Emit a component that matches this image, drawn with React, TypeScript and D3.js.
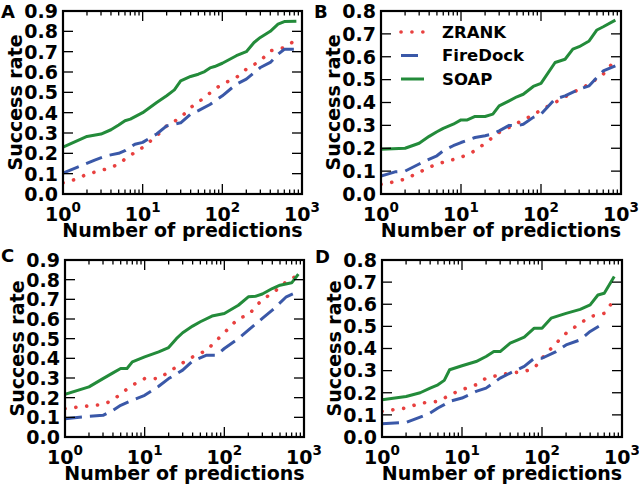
import React from "react";
import * as d3 from "d3";

type Pt = [number, number];

const SERIES_NAMES = ["ZRANK", "FireDock", "SOAP"];
const PANEL_LABELS = ["A", "B", "C", "D"];
const X_TICKS = [1, 10, 100, 1000];
const X_TICK_EXP = ["0", "1", "2", "3"];
const Y_TICKS_09 = [0, 0.1, 0.2, 0.3, 0.4, 0.5, 0.6, 0.7, 0.8, 0.9];
const Y_TICKS_08 = [0, 0.1, 0.2, 0.3, 0.4, 0.5, 0.6, 0.7, 0.8];
const X_LABEL = "Number of predictions";
const Y_LABEL = "Success rate";

const A_ZRANK: Pt[] = [[1,.055],[1.5,.074],[2,.098],[3,.115],[4,.131],[5,.147],[6,.172],[8,.205],[10,.229],[15,.286],[20,.335],[30,.376],[40,.425],[60,.475],[80,.516],[100,.54],[150,.573],[200,.614],[300,.655],[400,.704],[600,.72],[800,.753]];
const A_FIREDOCK: Pt[] = [[1,.103],[1.5,.131],[2.5,.167],[3.5,.188],[5,.2],[6,.213],[8,.245],[10,.254],[15,.295],[20,.335],[30,.35],[40,.393],[50,.41],[70,.44],[100,.483],[150,.54],[200,.565],[300,.622],[400,.647],[500,.687],[600,.712],[850,.712]];
const A_SOAP: Pt[] = [[1,.23],[2,.283],[3,.295],[4,.316],[5,.339],[6,.36],[7,.368],[10,.4],[15,.45],[20,.483],[25,.512],[30,.556],[40,.578],[50,.589],[60,.602],[70,.62],[80,.627],[100,.643],[150,.68],[200,.7],[250,.745],[300,.77],[400,.8],[500,.835],[600,.848],[850,.85]];

const B_ZRANK: Pt[] = [[1,.042],[1.5,.054],[2,.065],[3,.095],[4,.116],[5,.131],[7,.145],[10,.16],[15,.189],[20,.222],[30,.269],[40,.291],[60,.324],[80,.345],[100,.368],[150,.4],[200,.425],[300,.458],[400,.48],[600,.524],[800,.575]];
const B_FIREDOCK: Pt[] = [[1,.078],[1.5,.097],[2,.1],[3,.131],[3.5,.143],[5,.167],[6,.189],[8,.211],[10,.225],[15,.247],[20,.255],[25,.262],[30,.276],[40,.3],[50,.298],[60,.305],[80,.335],[100,.349],[150,.415],[200,.429],[300,.458],[400,.473],[500,.509],[600,.538],[850,.56]];
const B_SOAP: Pt[] = [[1,.196],[2,.2],[3,.222],[4,.252],[5,.272],[6,.287],[8,.305],[10,.324],[12,.324],[15,.339],[20,.339],[25,.349],[30,.385],[40,.407],[50,.425],[60,.436],[80,.47],[100,.484],[150,.575],[200,.589],[250,.633],[300,.644],[400,.669],[500,.717],[600,.731],[850,.76]];

const C_ZRANK: Pt[] = [[1,.144],[1.5,.153],[2,.158],[3,.166],[4,.187],[5,.22],[7,.263],[10,.297],[15,.297],[20,.331],[30,.377],[40,.407],[60,.441],[80,.492],[100,.53],[150,.603],[200,.62],[300,.7],[400,.73],[600,.79],[800,.818]];
const C_FIREDOCK: Pt[] = [[1,.093],[2,.105],[3,.11],[4,.136],[5,.161],[7,.187],[10,.212],[15,.258],[20,.297],[30,.34],[40,.387],[60,.416],[80,.416],[100,.45],[150,.5],[200,.543],[300,.603],[400,.645],[600,.713],[850,.74]];
const C_SOAP: Pt[] = [[1,.217],[2,.255],[3,.297],[4,.326],[5,.348],[6,.348],[7,.382],[10,.407],[15,.433],[20,.455],[25,.5],[30,.53],[40,.564],[50,.586],[70,.615],[100,.628],[150,.67],[200,.713],[250,.716],[300,.727],[400,.755],[500,.772],[700,.784],[850,.828]];

const D_ZRANK: Pt[] = [[1,.116],[2,.131],[3,.153],[5,.161],[6,.176],[8,.199],[10,.214],[15,.236],[20,.266],[30,.281],[40,.289],[60,.296],[80,.311],[100,.356],[150,.424],[200,.469],[300,.514],[400,.544],[600,.559],[800,.62]];
const D_FIREDOCK: Pt[] = [[1,.06],[2,.066],[3,.09],[4,.108],[5,.131],[6,.146],[7,.161],[10,.176],[15,.206],[20,.221],[30,.266],[40,.289],[60,.319],[80,.356],[100,.356],[150,.386],[200,.416],[300,.439],[400,.477],[550,.507]];
const D_SOAP: Pt[] = [[1,.168],[2,.183],[3,.2],[4,.221],[5,.236],[6,.256],[7,.304],[10,.322],[15,.341],[20,.364],[25,.386],[30,.386],[40,.424],[50,.439],[60,.451],[80,.492],[100,.492],[130,.537],[200,.559],[300,.577],[400,.597],[500,.642],[600,.65],[800,.725]];

const COLORS = ["#e8403f", "#3a58a8", "#238b3a"];
const FONT = "'DejaVu Sans', sans-serif";

const STYLES = [
  { dash: "0.1,10.8", width: 3.6, cap: "round" as const },
  { dash: "17,8", width: 3, cap: "butt" as const },
  { dash: undefined, width: 3, cap: "butt" as const },
];

type PanelProps = {
  idx: number;
  left: number; top: number; right: number; bottom: number;
  yMax: number; yTicks: number[];
  series: Pt[][];
  legend?: boolean;
  letterX: number; letterY: number;
  yLabelX: number;
};

function Panel(p: PanelProps) {
  const x = d3.scaleLog().domain([1, 1000]).range([p.left, p.right]);
  const y = d3.scaleLinear().domain([0, p.yMax]).range([p.bottom, p.top]);
  const line = d3.line<Pt>().x(d => x(d[0])).y(d => y(d[1]));
  const minor: number[] = [];
  for (let k = 0; k < 3; k++) for (let m = 2; m <= 9; m++) minor.push(m * Math.pow(10, k));
  const clipId = "clip" + p.idx;
  const fs = 19;
  const major = 10, minorLen = 4.5;
  return (
    <g>
      <defs>
        <clipPath id={clipId}>
          <rect x={p.left} y={p.top} width={p.right - p.left} height={p.bottom - p.top} />
        </clipPath>
      </defs>
      <g clipPath={`url(#${clipId})`}>
        {p.series.map((s, i) => (
          <path key={i} d={line(s) || ""} fill="none" stroke={COLORS[i]}
            strokeWidth={STYLES[i].width} strokeDasharray={STYLES[i].dash}
            strokeLinecap={STYLES[i].cap} strokeLinejoin="round" />
        ))}
      </g>
      {/* ticks */}
      <g stroke="#000" strokeWidth={1.3}>
        {X_TICKS.map(t => (
          <g key={"xm" + t}>
            <line x1={x(t)} x2={x(t)} y1={p.bottom} y2={p.bottom - major} />
            <line x1={x(t)} x2={x(t)} y1={p.top} y2={p.top + major} />
          </g>
        ))}
        {minor.map(t => (
          <g key={"xn" + t}>
            <line x1={x(t)} x2={x(t)} y1={p.bottom} y2={p.bottom - minorLen} />
            <line x1={x(t)} x2={x(t)} y1={p.top} y2={p.top + minorLen} />
          </g>
        ))}
        {p.yTicks.map(t => (
          <g key={"y" + t}>
            <line x1={p.left} x2={p.left + major} y1={y(t)} y2={y(t)} />
            <line x1={p.right} x2={p.right - major} y1={y(t)} y2={y(t)} />
          </g>
        ))}
      </g>
      <rect x={p.left} y={p.top} width={p.right - p.left} height={p.bottom - p.top}
        fill="none" stroke="#000" strokeWidth={2.2} />
      {/* tick labels */}
      <g fontFamily={FONT} fontWeight="bold" fontSize={fs} fill="#000">
        {p.yTicks.map(t => (
          <text key={"yl" + t} x={p.left - 5} y={y(t)} dy="0.36em" textAnchor="end">{t.toFixed(1)}</text>
        ))}
        {X_TICKS.map((t, i) => (
          <text key={"xl" + t} x={x(t)} y={p.bottom + 27} textAnchor="middle">
            10<tspan dy={-9} fontSize={13.5}>{X_TICK_EXP[i]}</tspan>
          </text>
        ))}
        <text x={(p.left + p.right) / 2} y={p.bottom + 43} textAnchor="middle">{X_LABEL}</text>
        <text transform={`translate(${p.yLabelX},${(p.top + p.bottom) / 2}) rotate(-90)`} textAnchor="middle" dy="0.36em">{Y_LABEL}</text>
        <text x={p.letterX} y={p.letterY} fontSize={18}>{PANEL_LABELS[p.idx]}</text>
      </g>
      {p.legend && (
        <g fontFamily={FONT} fontWeight="bold" fontSize={16.5}>
          {SERIES_NAMES.map((n, i) => {
            const ly = p.top + 21 + i * 23.5;
            return (
              <g key={n}>
                <line x1={p.left + 20} x2={i === 1 ? p.left + 37 : p.left + 43} y1={ly} y2={ly}
                  stroke={COLORS[i]} strokeWidth={STYLES[i].width}
                  strokeDasharray={STYLES[i].dash} strokeLinecap={STYLES[i].cap} />
                <text x={p.left + 61} y={ly} dy="0.36em">{n}</text>
              </g>
            );
          })}
        </g>
      )}
    </g>
  );
}

export default function App() {
  return (
    <svg width={639} height={486} style={{ position: "absolute", left: 0, top: 0, background: "#fff" }}>
      <rect width={639} height={486} fill="#fff" />
      <Panel idx={0} left={63} top={11} right={302} bottom={194} yMax={0.9} yTicks={Y_TICKS_09}
        series={[A_ZRANK, A_FIREDOCK, A_SOAP]} letterX={1} letterY={18} yLabelX={15} />
      <Panel idx={1} left={381} top={11} right={621} bottom={194} yMax={0.8} yTicks={Y_TICKS_08}
        series={[B_ZRANK, B_FIREDOCK, B_SOAP]} legend letterX={314} letterY={18} yLabelX={333} />
      <Panel idx={2} left={65} top={260} right={304} bottom={437} yMax={0.9} yTicks={Y_TICKS_09}
        series={[C_ZRANK, C_FIREDOCK, C_SOAP]} letterX={1} letterY={262} yLabelX={17} />
      <Panel idx={3} left={382} top={260} right={622} bottom={437} yMax={0.8} yTicks={Y_TICKS_08}
        series={[D_ZRANK, D_FIREDOCK, D_SOAP]} letterX={315} letterY={263} yLabelX={334} />
    </svg>
  );
}
